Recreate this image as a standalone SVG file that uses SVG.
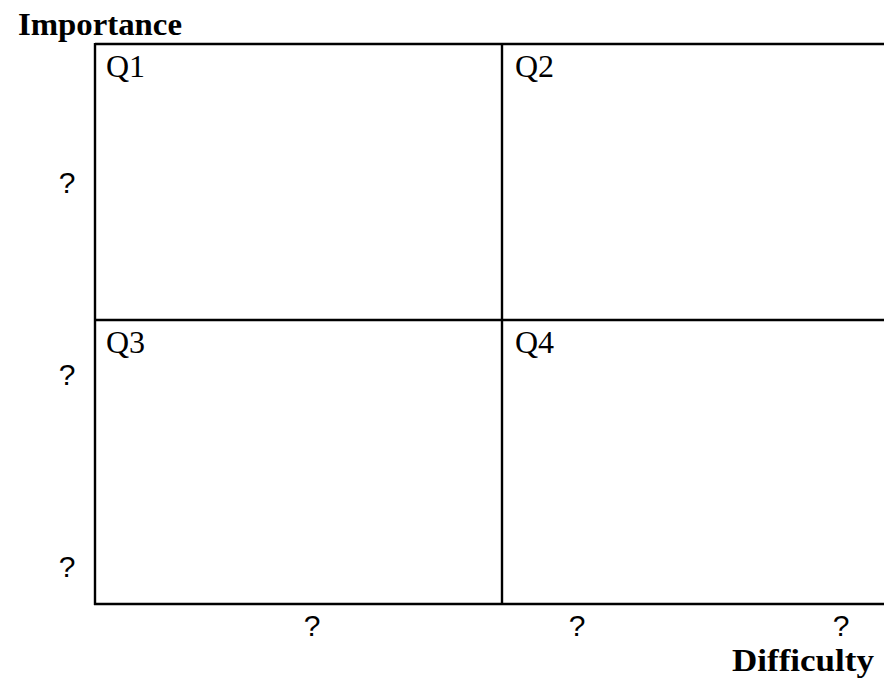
<svg xmlns="http://www.w3.org/2000/svg" width="884" height="682" viewBox="0 0 884 682">
<style>
.ln{stroke:#000;stroke-width:2.4;fill:none}
.ttl{font-family:"Liberation Serif",serif;font-weight:bold;font-size:31px;fill:#000}
.q{font-family:"Liberation Serif",serif;font-size:32px;fill:#000}
.m{font-family:"Liberation Sans",sans-serif;font-size:30px;font-weight:normal;fill:#000;text-anchor:middle}
</style>
<rect width="884" height="682" fill="#fff"/>
<g id="grid">
<line class="ln" x1="95" y1="44" x2="890" y2="44"/>
<line class="ln" x1="95" y1="320" x2="890" y2="320"/>
<line class="ln" x1="94" y1="604" x2="890" y2="604"/>
<line class="ln" x1="95" y1="43" x2="95" y2="605"/>
<line class="ln" x1="502" y1="44" x2="502" y2="604"/>
</g>
<g id="axis-labels">
<text class="ttl" x="18" y="35" textLength="164" lengthAdjust="spacingAndGlyphs">Importance</text>
<text class="ttl" x="732" y="671" textLength="142" lengthAdjust="spacingAndGlyphs">Difficulty</text>
</g>
<g id="Q1"><text class="q" x="106" y="77">Q1</text></g>
<g id="Q2"><text class="q" x="515" y="77">Q2</text></g>
<g id="Q3"><text class="q" x="106" y="353">Q3</text></g>
<g id="Q4"><text class="q" x="515" y="353">Q4</text></g>
<g id="marks">
<text class="m" x="67" y="193">?</text>
<text class="m" x="67" y="385">?</text>
<text class="m" x="67" y="577">?</text>
<text class="m" x="312" y="636">?</text>
<text class="m" x="577" y="636">?</text>
<text class="m" x="841" y="636">?</text>
</g>
</svg>
